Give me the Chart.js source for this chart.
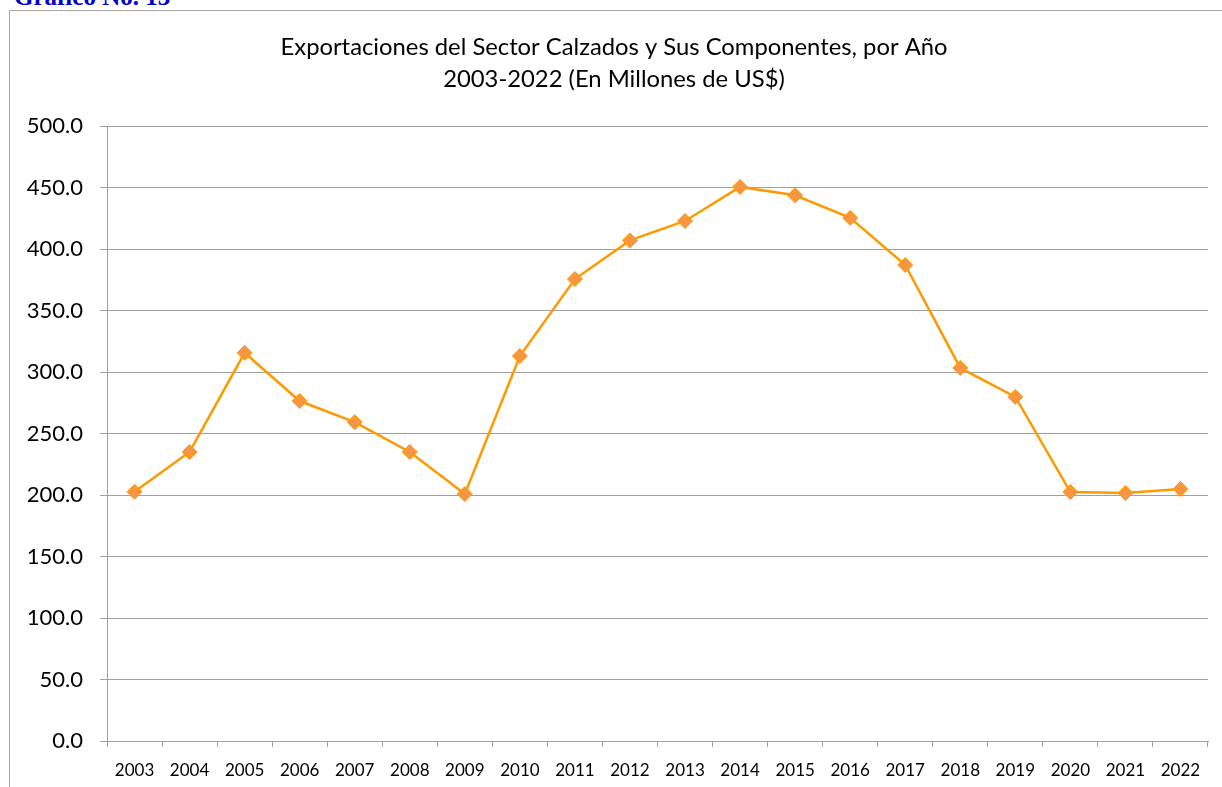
<!DOCTYPE html>
<html>
<head>
<meta charset="utf-8">
<script src="https://cdn.jsdelivr.net/npm/chart.js@4/dist/chart.umd.min.js"></script>
<style>
  body { margin: 0; background: #fff; width: 1222px; height: 787px; overflow: hidden; position: relative; }
  #frame { position: absolute; left: 9px; top: 10px; width: 1300px; height: 900px; border: 1px solid #a6a6a6; box-sizing: border-box; }
  #label { position: absolute; left: 14px; top: -16px; font: bold 25px/1 "Liberation Serif", serif; color: #0000cc; white-space: nowrap; }
  #wrap { position: absolute; left: 0; top: 0; width: 1222px; height: 787px; }
</style>
</head>
<body>
<div id="frame"></div>
<div id="label">Gráfico No. 13</div>
<div id="wrap"><canvas id="exportChart"></canvas></div>
<script>
// años y exportaciones (millones de US$)
const years = ['2003', '2004', '2005', '2006', '2007', '2008', '2009', '2010', '2011', '2012',
               '2013', '2014', '2015', '2016', '2017', '2018', '2019', '2020', '2021', '2022'];
const exportValues = [202.6, 235.0, 315.6, 276.4, 259.2, 235.0, 200.8, 313.0, 375.6, 407.0,
                      422.8, 450.5, 443.7, 425.3, 387.0, 303.3, 279.7, 202.4, 201.6, 204.9];
const titleLines = ['Exportaciones del Sector Calzados y Sus Componentes, por Año',
                    '2003-2022 (En Millones de US$)'];

const gridGray = '#a0a0a0';

const ctx = document.getElementById('exportChart').getContext('2d');
const myChart = new Chart(ctx, {
    type: 'line',
    data: {
        labels: years,
        datasets: [{
            label: 'Exportaciones',
            data: exportValues,
            borderColor: '#ff9900',
            borderWidth: 2.5,
            backgroundColor: '#f7963f',
            pointStyle: 'rectRot',
            pointRadius: 7.5,
            pointBorderColor: '#ff9900',
            pointBorderWidth: 1,
            tension: 0
        }]
    },
    options: {
        responsive: true,
        maintainAspectRatio: false,
        animation: false,
        layout: {
            padding: { left: 20, right: 14, top: 0, bottom: 0 }
        },
        scales: {
            x: {
                offset: true,
                afterFit: function(scale) { scale.height = 46; },
                grid: {
                    offset: true,
                    drawOnChartArea: false,
                    drawTicks: true,
                    tickLength: 6,
                    color: gridGray
                },
                border: { color: gridGray, width: 1 },
                ticks: {
                    padding: 13,
                    color: '#000',
                    maxRotation: 0,
                    autoSkip: false,
                    font: { family: 'Lato', size: 17 }
                }
            },
            y: {
                min: 0,
                max: 500,
                afterFit: function(scale) { scale.width = 87; },
                grid: {
                    color: gridGray,
                    tickLength: 7
                },
                border: { color: gridGray, width: 1 },
                ticks: {
                    stepSize: 50,
                    padding: 17,
                    color: '#000',
                    font: { family: 'Lato', size: 22 },
                    callback: function(value) { return value.toFixed(1); }
                }
            }
        },
        plugins: {
            legend: { display: false },
            tooltip: { enabled: false },
            title: {
                display: true,
                text: titleLines,
                color: '#000',
                font: { family: 'Lato', size: 23.8, weight: 'normal', lineHeight: 1.345 },
                padding: { top: 31, bottom: 31 }
            }
        }
    }
});
</script>
</body>
</html>
